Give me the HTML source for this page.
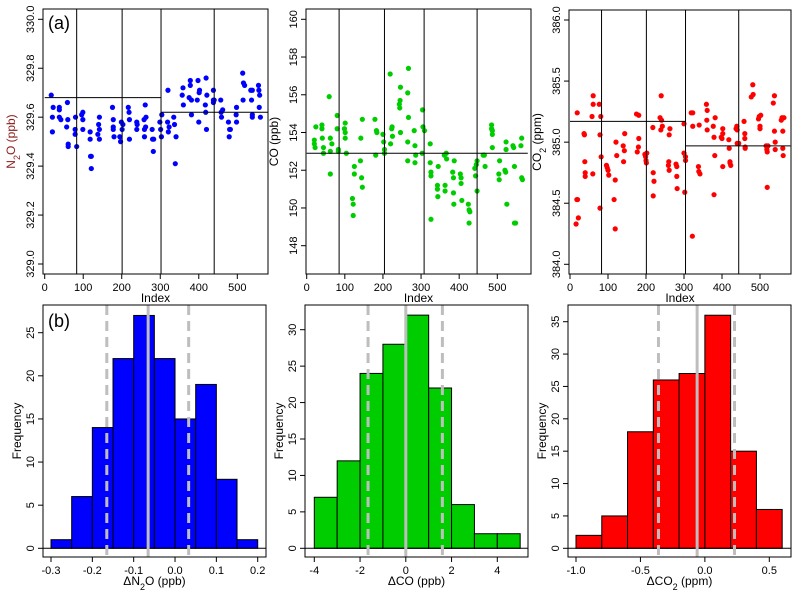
<!DOCTYPE html>
<html><head><meta charset="utf-8"><style>
html,body{margin:0;padding:0;background:#fff}
svg{display:block;font-family:"Liberation Sans",Arial,sans-serif}
</style></head><body>
<svg id="chart" width="800" height="600" viewBox="0 0 800 600" xmlns="http://www.w3.org/2000/svg"></svg>
<script>
// ---------- Data ----------
const n2oIndex=[17,20,20,22,38,38,38,42,57,59,60,61,61,79,79,80,83,96,99,99,99,118,118,119,121,121,138,140,142,142,142,176,178,178,180,178,195,197,199,201,203,217,219,220,220,239,239,240,258,259,259,261,263,262,279,280,282,283,299,301,303,304,319,320,321,323,335,337,339,341,357,359,360,375,378,378,381,381,396,398,400,401,402,419,417,418,420,421,438,438,438,440,457,458,459,462,477,479,480,482,497,498,498,514,516,519,515,535,537,539,539,539,555,556,558,557,560];
const n2oValue=[329.69,329.60,329.54,329.64,329.64,329.63,329.60,329.59,329.56,329.66,329.59,329.49,329.48,329.55,329.53,329.60,329.48,329.61,329.62,329.55,329.59,329.54,329.51,329.44,329.44,329.39,329.53,329.57,329.60,329.55,329.51,329.64,329.59,329.56,329.52,329.55,329.52,329.50,329.58,329.55,329.57,329.64,329.62,329.59,329.51,329.58,329.55,329.57,329.59,329.55,329.52,329.65,329.60,329.56,329.55,329.51,329.46,329.51,329.58,329.55,329.52,329.61,329.58,329.71,329.54,329.56,329.60,329.57,329.41,329.52,329.69,329.72,329.65,329.68,329.75,329.73,329.67,329.61,329.67,329.75,329.58,329.70,329.71,329.76,329.65,329.62,329.55,329.69,329.71,329.67,329.66,329.67,329.67,329.62,329.60,329.63,329.58,329.52,329.55,329.55,329.61,329.64,329.58,329.78,329.74,329.73,329.67,329.71,329.67,329.71,329.61,329.60,329.73,329.71,329.69,329.64,329.60];
const coIndex=[20,20,22,24,40,40,41,44,44,59,62,62,62,66,80,80,83,83,99,101,101,101,104,120,122,122,125,125,141,142,144,146,146,179,181,183,184,200,202,204,204,220,219,223,224,225,243,244,245,246,246,265,265,265,267,267,282,284,284,286,304,305,309,303,324,324,326,326,326,343,343,344,345,361,363,363,366,367,383,385,385,386,387,403,405,405,407,424,426,426,428,441,443,445,447,447,463,466,468,485,485,487,487,487,504,505,506,520,522,523,523,525,541,543,545,545,548,562,564,564,566];
const coValue=[153.6,153.4,153.2,154.3,154.4,154.2,153.7,153.2,152.9,155.9,153.7,153.0,151.8,153.4,154.9,154.2,153.1,153.0,154.2,154.5,154.0,153.7,152.9,150.5,150.2,149.6,152.2,151.8,152.5,153.7,151.6,154.7,151.1,154.7,152.8,154.1,154.0,153.9,153.5,153.1,152.9,153.4,157.1,154.2,154.3,153.8,155.5,155.3,155.7,156.4,154.0,153.5,152.5,156.1,157.4,154.8,154.1,153.3,152.4,152.8,155.2,154.3,154.1,152.9,153.4,152.4,151.9,151.7,149.4,151.2,151.0,150.6,152.2,152.8,151.2,150.9,152.9,152.6,151.9,151.6,150.8,150.2,152.5,151.8,151.6,151.3,150.4,150.2,149.9,149.2,149.8,152.1,151.7,152.3,152.5,150.9,152.8,152.8,152.2,154.4,154.2,154.1,153.9,153.2,151.8,151.5,152.5,152.0,151.9,153.5,153.1,150.2,153.3,153.2,152.2,149.2,149.2,153.3,153.7,151.6,151.5];
const co2Index=[16,18,19,22,20,37,38,39,40,40,58,60,61,61,77,79,79,81,82,96,98,100,102,116,119,119,121,123,140,141,143,144,175,177,180,181,181,197,199,200,201,202,218,219,219,221,237,239,240,241,243,259,260,261,261,263,279,281,281,282,300,300,302,304,304,319,323,323,322,338,339,340,342,359,360,361,361,377,379,379,381,382,398,400,402,402,402,418,419,421,421,423,437,439,440,440,444,458,460,460,461,461,496,498,500,500,502,481,477,482,516,518,519,519,521,535,538,538,540,540,556,558,560,560,561,563];
const co2Value=[384.33,384.53,385.24,384.38,384.53,385.07,385.06,384.84,384.75,384.72,385.21,384.74,385.31,385.38,385.31,385.06,384.46,385.21,384.88,384.81,384.79,384.77,384.73,384.53,384.69,384.29,385.00,384.89,384.97,384.84,384.93,385.07,385.23,384.92,384.96,385.22,385.03,384.90,384.88,384.85,384.83,384.91,385.12,384.75,384.56,384.68,385.20,385.10,385.38,385.18,385.13,384.81,384.84,385.06,384.77,385.11,384.82,384.80,384.72,384.62,385.15,384.91,384.59,384.88,384.85,385.24,385.13,385.24,384.23,384.80,384.76,385.14,384.74,385.31,385.18,385.26,385.10,385.13,385.04,384.57,384.89,385.20,385.04,385.03,385.11,384.80,385.07,385.02,384.95,384.84,384.83,384.81,385.11,385.13,385.10,384.99,384.99,385.17,385.07,385.03,384.96,384.95,385.19,385.21,385.13,385.11,385.22,385.47,385.37,385.39,384.97,384.94,384.92,384.63,384.97,385.32,385.38,385.09,385.00,384.94,385.18,385.20,385.09,384.95,384.89,385.20];
// breakpoints (index) and segment means
const n2oBreaks=[83,201,302,440];
const n2oMeans=[[0,302,329.68],[302,580,329.62]];
const coBreaks=[85,204,308,447];
const coMeans=[[0,580,152.9]];
const co2Breaks=[83,201,304,444];
const co2Means=[[0,304,385.17],[304,580,384.97]];
// histograms
const n2oBins=[-0.3,-0.25,-0.2,-0.15,-0.1,-0.05,0,0.05,0.1,0.15,0.2];
const n2oCounts=[1,6,14,22,27,22,15,19,8,1];
const n2oRefs=[-0.165,-0.065,0.033];
const coBins=[-4,-3,-2,-1,0,1,2,3,4,5];
const coCounts=[7,12,24,28,32,22,6,2,2];
const coRefs=[-1.65,0,1.6];
const co2Bins=[-1.0,-0.8,-0.6,-0.4,-0.2,0,0.2,0.4,0.6];
const co2Counts=[2,5,18,26,27,36,15,6];
const co2Refs=[-0.36,-0.06,0.23];
const indexTicks=[0,100,200,300,400,500];
const n2oTicks=["329.0","329.2","329.4","329.6","329.8","330.0"];
const coTicks=["148","150","152","154","156","158","160"];
const co2Ticks=["384.0","384.5","385.0","385.5","386.0"];
const n2oHistX=["-0.3","-0.2","-0.1","0.0","0.1","0.2"];
const coHistX=["-4","-2","0","2","4"];
const co2HistX=["-1.0","-0.5","0.0","0.5"];
const n2oHistY=[0,5,10,15,20,25];
const coHistY=[0,5,10,15,20,25,30];
const co2HistY=[0,5,10,15,20,25,30,35];

// ---------- Drawing ----------
const NS="http://www.w3.org/2000/svg";
const svg=document.getElementById('chart');
function mk(tag,attrs,parent){const e=document.createElementNS(NS,tag);for(const k in attrs)e.setAttribute(k,attrs[k]);(parent||svg).appendChild(e);return e;}
function lin(d0,d1,r0,r1){return v=>r0+(v-d0)*(r1-r0)/(d1-d0);}

function yTickLabels(g,left,ys,labels,vals){
  labels.forEach((lab,i)=>{
    const y=ys(vals[i]);
    const t=mk('line',{x1:left,x2:left-5,y1:y,y2:y,stroke:'#000'},g);
    
    const tx=mk('text',{x:left-9,y:y,'font-size':11,'text-anchor':'middle',transform:`rotate(-90 ${left-9} ${y})`},g);
    
    tx.textContent=lab;
  });
}
function xTickLabels(g,bottom,xs,labels,vals){
  labels.forEach((lab,i)=>{
    const x=xs(vals[i]);
    const t=mk('line',{x1:x,x2:x,y1:bottom,y2:bottom+5,stroke:'#000'},g);
    
    const tx=mk('text',{x:x,y:bottom+17,'font-size':11,'text-anchor':'middle'},g);
    
    tx.textContent=lab;
  });
}

function scatter(cfg){
  const g=mk('g',{});
  
  const xs=lin(0,500,cfg.x0,cfg.x500);
  const ys=lin(cfg.ylo,cfg.yhi,cfg.ylop,cfg.yhip);
  const clip=mk('clipPath',{id:cfg.name+'-clip'},g);
  mk('rect',{x:cfg.L,y:cfg.T,width:cfg.R-cfg.L,height:cfg.B-cfg.T},clip);
  const pg=mk('g',{'clip-path':`url(#${cfg.name}-clip)`},g);
  cfg.idx.forEach((ix,i)=>{
    const c=mk('circle',{cx:xs(ix),cy:ys(cfg.val[i]),r:2.6,fill:cfg.color},pg);
    
  });
  cfg.breaks.forEach(b=>{
    const l=mk('line',{x1:xs(b),x2:xs(b),y1:cfg.T,y2:cfg.B,stroke:'#000','stroke-width':1},pg);
    
  });
  cfg.means.forEach(m=>{
    const l=mk('line',{x1:xs(m[0]),x2:xs(m[1]),y1:ys(m[2]),y2:ys(m[2]),stroke:'#000','stroke-width':1},pg);
    
  });
  const box=mk('rect',{x:cfg.L,y:cfg.T,width:cfg.R-cfg.L,height:cfg.B-cfg.T,fill:'none',stroke:'#000'},g);
  
  xTickLabels(g,cfg.B,xs,indexTicks.map(String),indexTicks);
  yTickLabels(g,cfg.L,ys,cfg.yticks,cfg.yticks.map(Number));
  const xt=mk('text',{x:(cfg.L+cfg.R)/2,y:cfg.B+28,'font-size':12,'text-anchor':'middle'},g);
  
  xt.textContent='Index';
  const yx=cfg.L-28, yy=(cfg.T+cfg.B)/2;
  const yt=mk('text',{x:yx,y:yy,'font-size':12,'text-anchor':'middle',fill:cfg.ycolor||'#000',transform:`rotate(-90 ${yx} ${yy})`},g);
  
  yt.innerHTML=cfg.ytitle;
  if(cfg.tag){const p=mk('text',{x:cfg.L+5,y:cfg.T+20,'font-size':18},g);p.textContent=cfg.tag;}
}

function hist(cfg){
  const g=mk('g',{});
  
  const xs=lin(cfg.xa,cfg.xb,cfg.xap,cfg.xbp);
  const ys=lin(0,cfg.ytop,548.3,cfg.ytopp);
  cfg.counts.forEach((c,i)=>{
    const x0=xs(cfg.bins[i]),x1=xs(cfg.bins[i+1]);
    const r=mk('rect',{x:x0,y:ys(c),width:x1-x0,height:ys(0)-ys(c),fill:cfg.color,stroke:'#000','stroke-width':1},g);
    
  });
  const z=mk('line',{x1:cfg.L,x2:cfg.R,y1:ys(0),y2:ys(0),stroke:'#000'},g);
  
  cfg.refs.forEach((v,i)=>{
    const a={x1:xs(v),x2:xs(v),y1:cfg.T,y2:cfg.B,stroke:'#bebebe','stroke-width':3};
    if(i!==1)a['stroke-dasharray']='10,6';
    const l=mk('line',a,g);
    
  });
  const box=mk('rect',{x:cfg.L,y:cfg.T,width:cfg.R-cfg.L,height:cfg.B-cfg.T,fill:'none',stroke:'#000'},g);
  
  xTickLabels(g,cfg.B,xs,cfg.xticks,cfg.xticks.map(Number));
  yTickLabels(g,cfg.L,ys,cfg.yticks.map(String),cfg.yticks);
  const xt=mk('text',{x:(cfg.L+cfg.R)/2,y:cfg.B+28,'font-size':12,'text-anchor':'middle'},g);
  
  xt.innerHTML=cfg.xtitle;
  const yx=cfg.L-22, yy=(cfg.T+cfg.B)/2;
  const yt=mk('text',{x:yx,y:yy,'font-size':12,'text-anchor':'middle',transform:`rotate(-90 ${yx} ${yy})`},g);
  
  yt.textContent='Frequency';
  if(cfg.tag){const p=mk('text',{x:cfg.L+5,y:cfg.T+22,'font-size':18},g);p.textContent=cfg.tag;}
}

scatter({name:'n2o-timeseries',L:43,R:268,T:9,B:274,x0:44.7,x500:237.3,ylo:329,yhi:330,ylop:264,yhip:19.3,
  idx:n2oIndex,val:n2oValue,color:'#0000ff',breaks:n2oBreaks,means:n2oMeans,yticks:n2oTicks,
  ytitle:'N<tspan baseline-shift="sub" font-size="9">2</tspan>O (ppb)',ycolor:'#8b1a1a',tag:'(a)'});
scatter({name:'co-timeseries',L:306,R:531,T:9,B:274,x0:306.7,x500:497.3,ylo:148,yhi:160,ylop:245.7,yhip:19.3,
  idx:coIndex,val:coValue,color:'#00cd00',breaks:coBreaks,means:coMeans,yticks:coTicks,ytitle:'CO (ppb)'});
scatter({name:'co2-timeseries',L:569,R:791,T:10,B:274,x0:570,x500:760,ylo:384,yhi:386,ylop:264.3,yhip:20,
  idx:co2Index,val:co2Value,color:'#ff0000',breaks:co2Breaks,means:co2Means,yticks:co2Ticks,
  ytitle:'CO<tspan baseline-shift="sub" font-size="9">2</tspan> (ppm)'});

hist({name:'n2o-histogram',L:43,R:266,T:305,B:557,xa:-0.3,xb:0.2,xap:51,xbp:257.7,ytop:25,ytopp:332.7,
  bins:n2oBins,counts:n2oCounts,refs:n2oRefs,color:'#0000ff',xticks:n2oHistX,yticks:n2oHistY,
  xtitle:'ΔN<tspan baseline-shift="sub" font-size="9">2</tspan>O (ppb)',tag:'(b)'});
hist({name:'co-histogram',L:305,R:528,T:305,B:557,xa:-4,xb:4,xap:314.3,xbp:497.3,ytop:30,ytopp:329.7,
  bins:coBins,counts:coCounts,refs:coRefs,color:'#00cd00',xticks:coHistX,yticks:coHistY,xtitle:'ΔCO (ppb)'});
hist({name:'co2-histogram',L:568,R:791,T:305,B:557,xa:-1,xb:0.5,xap:576,xbp:769.3,ytop:35,ytopp:321.7,
  bins:co2Bins,counts:co2Counts,refs:co2Refs,color:'#ff0000',xticks:co2HistX,yticks:co2HistY,
  xtitle:'ΔCO<tspan baseline-shift="sub" font-size="9">2</tspan> (ppm)'});
</script>
</body></html>
